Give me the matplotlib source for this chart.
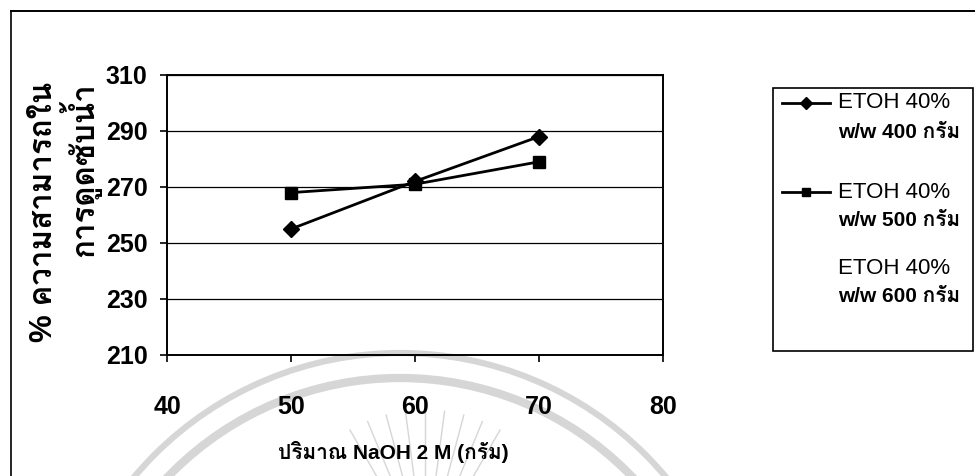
import matplotlib
matplotlib.use("Agg")
import matplotlib.pyplot as plt
from matplotlib import font_manager
from matplotlib.ft2font import FT2Font
from matplotlib.lines import Line2D
from matplotlib.patches import Rectangle, Arc
import numpy as np

# ---- data -------------------------------------------------------------
naoh_g = [50, 60, 70]                 # NaOH 2 M (g)
etoh400 = [255, 272, 288]             # % water absorption, EtOH 40% w/w 400 g
etoh500 = [268, 271, 279]             # % water absorption, EtOH 40% w/w 500 g
etoh600 = []                          # EtOH 40% w/w 600 g (no points plotted)

series_labels = [
    ("ETOH 40%", "w/w 400 กรัม"),
    ("ETOH 40%", "w/w 500 กรัม"),
    ("ETOH 40%", "w/w 600 กรัม"),
]
x_ticks = [40, 50, 60, 70, 80]
y_ticks = [210, 230, 250, 270, 290, 310]
x_label = "ปริมาณ NaOH 2 M (กรัม)"
y_label = "% ความสามารถใน\nการดูดซับน้ำ"


# ---- fonts: Latin in Liberation Sans, Thai from any font that has it ---
def find_thai_font():
    seen = set()
    for f in font_manager.fontManager.ttflist:
        if f.name in seen:
            continue
        try:
            cmap = FT2Font(f.fname).get_charmap()
        except Exception:
            continue
        if 0x0E01 in cmap and 0x0E21 in cmap:
            return f.name
        seen.add(f.name)
    return None


thai = find_thai_font()
families = ["Liberation Sans"] + ([thai] if thai else []) + ["DejaVu Sans"]
plt.rcParams["font.family"] = families

W, H = 975, 476
fig = plt.figure(figsize=(W / 100, H / 100), dpi=100)
fig.patch.set_facecolor("white")


def fx(px):
    return px / W


def fy(py):
    return 1 - py / H


# faint watermark arcs behind the chart
wm = "#d6d6d6"
for r, lw in [(347, 4.5), (322, 6)]:
    fig.add_artist(Arc((fx(400), fy(700)), 2 * r / W, 2 * r / H,
                       theta1=0, theta2=180, transform=fig.transFigure,
                       color=wm, lw=lw, zorder=-5))
for ang in np.linspace(60, 120, 9):
    a = np.deg2rad(ang)
    cx, cy = 425, 560
    fig.add_artist(Line2D([fx(cx + 85 * np.cos(a)), fx(cx + 150 * np.cos(a))],
                          [fy(cy - 85 * np.sin(a)), fy(cy - 150 * np.sin(a))],
                          transform=fig.transFigure, color=wm, lw=1.0, zorder=-5))

# outer frame (left and top edges)
fig.add_artist(Line2D([fx(10.5), fx(10.5)], [fy(10.5), 0], transform=fig.transFigure,
                      color="black", lw=1.2))
fig.add_artist(Line2D([fx(10.5), 1], [fy(10.5), fy(10.5)], transform=fig.transFigure,
                      color="black", lw=1.4))

# ---- axes -------------------------------------------------------------
ax = fig.add_axes([fx(167), fy(355), fx(663) - fx(167), fy(75) - fy(355)])
ax.patch.set_alpha(0)

ax.plot(naoh_g, etoh400, color="black", lw=2.0, marker="D", ms=8.5,
        mfc="black", mec="black", zorder=3)
ax.plot(naoh_g, etoh500, color="black", lw=2.0, marker="s", ms=8,
        mfc="black", mec="black", zorder=3)
ax.plot(naoh_g[:len(etoh600)], etoh600, color="black", lw=0)

ax.set_xlim(x_ticks[0], x_ticks[-1])
ax.set_ylim(y_ticks[0], y_ticks[-1])
ax.set_xticks(x_ticks)
ax.set_yticks(y_ticks)
ax.yaxis.grid(True, color="black", lw=0.9)
ax.set_axisbelow(True)
for s in ax.spines.values():
    s.set_color("black")
    s.set_linewidth(1.4)

ax.tick_params(axis="both", direction="out", length=5, width=1.2, color="black",
               labelsize=18)
ax.tick_params(axis="x", pad=24)
ax.tick_params(axis="y", pad=9)
for lab in ax.get_xticklabels() + ax.get_yticklabels():
    lab.set_fontweight("bold")

fig.text(fx(393), fy(452), x_label, ha="center", va="center",
         fontsize=15, fontweight="bold")
fig.text(fx(65), fy(212), y_label, ha="center", va="center", rotation=90,
         multialignment="right", fontsize=22.5, fontweight="bold", linespacing=0.98)

# ---- legend box -------------------------------------------------------
fig.add_artist(Rectangle((fx(773), fy(351)), fx(973) - fx(773), fy(88) - fy(351),
                         transform=fig.transFigure, fill=False, ec="black", lw=1.2))
markers = ["D", "s", None]
entry_y = [103, 192, 268]
for (l1, l2), mk, y0 in zip(series_labels, markers, entry_y):
    if mk is not None:
        fig.add_artist(Line2D([fx(782), fx(830)], [fy(y0), fy(y0)],
                              transform=fig.transFigure, color="black", lw=2.0))
        fig.add_artist(Line2D([fx(806)], [fy(y0)], transform=fig.transFigure,
                              marker=mk, ms=6, color="black", lw=0))
    fig.text(fx(838), fy(y0), l1, ha="left", va="center", fontsize=16)
    fig.text(fx(838), fy(y0 + 29), l2, ha="left", va="center", fontsize=15,
             fontweight="bold")

fig.savefig("out.png", dpi=100)
